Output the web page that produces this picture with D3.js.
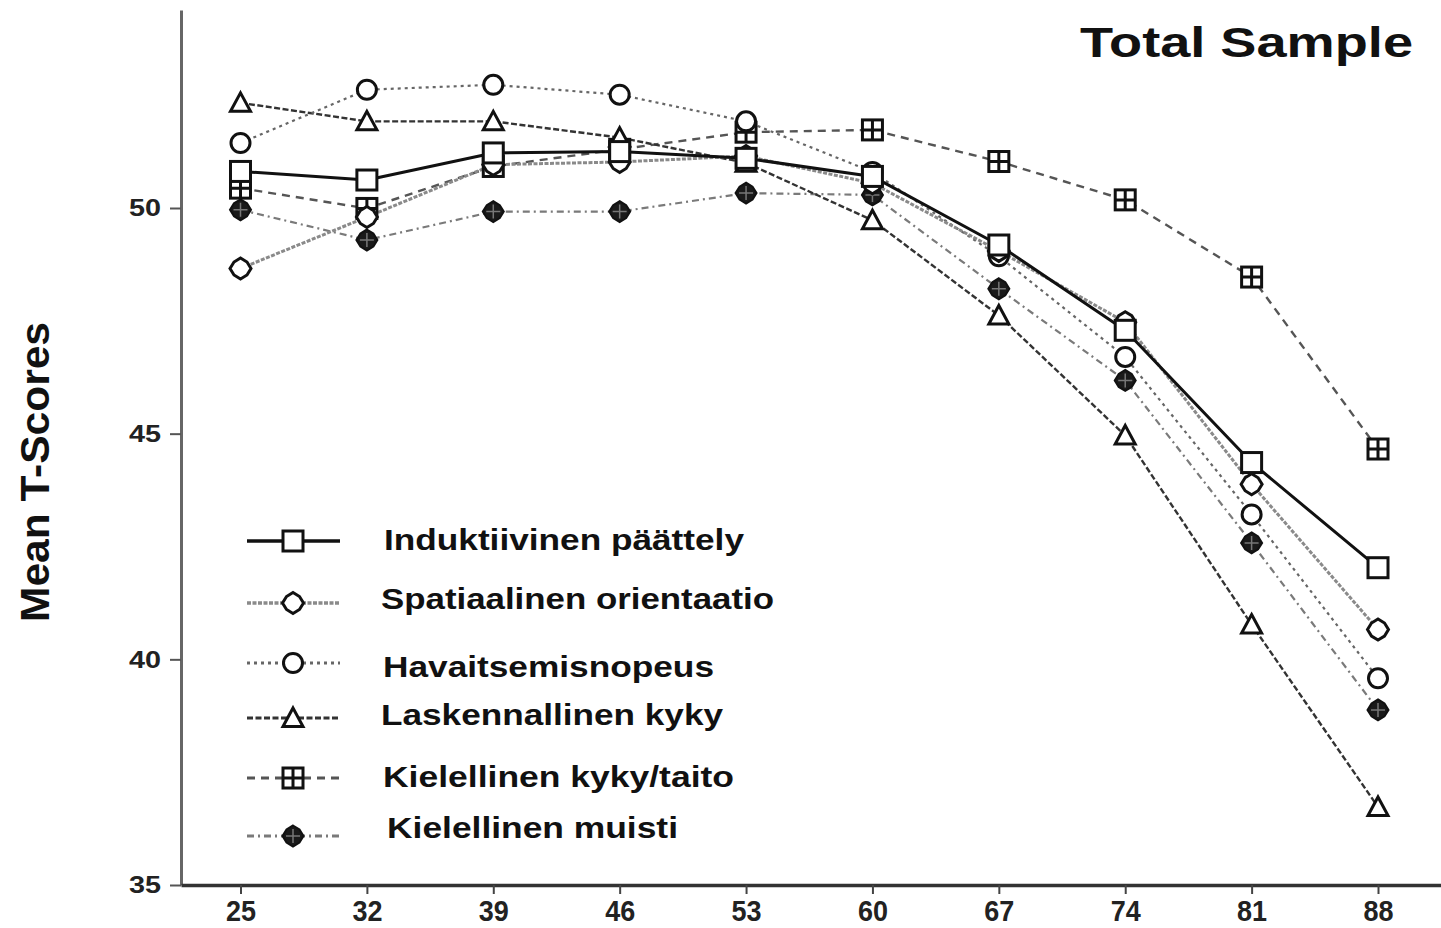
<!DOCTYPE html>
<html>
<head>
<meta charset="utf-8">
<script src="https://cdn.jsdelivr.net/npm/d3@7"></script>
<style>
  body { margin: 0; background: #fff; }
  svg { display: block; }
</style>
</head>
<body>
<svg id="chart" width="1441" height="928"></svg>
<script>
// Ages (years) on the horizontal axis
const ages = [25, 32, 39, 46, 53, 60, 67, 74, 81, 88];
const yTicks = [35, 40, 45, 50];

// Mean T-scores per ability, one value per age group
const induktiivinen  = [50.81, 50.62, 51.22, 51.25, 51.10, 50.70, 49.18, 47.29, 44.36, 42.03];
const spatiaalinen   = [48.66, 49.80, 50.96, 51.02, 51.15, 50.55, 49.05, 47.47, 43.88, 40.66];
const havaitsemis    = [51.44, 52.62, 52.73, 52.51, 51.92, 50.80, 48.93, 46.70, 43.21, 39.58];
const laskennallinen = [52.33, 51.92, 51.92, 51.56, 51.00, 49.73, 47.62, 44.96, 40.77, 36.73];
const kielKyky       = [50.44, 49.99, 50.92, 51.30, 51.68, 51.73, 51.03, 50.18, 48.47, 44.66];
const kielMuisti     = [49.96, 49.29, 49.92, 49.92, 50.33, 50.29, 48.21, 46.18, 42.58, 38.88];

const seriesNames = [
  "Induktiivinen päättely",
  "Spatiaalinen orientaatio",
  "Havaitsemisnopeus",
  "Laskennallinen kyky",
  "Kielellinen kyky/taito",
  "Kielellinen muisti"
];

const styles = [
  { marker: "square",   stroke: "#111", width: 3,   dash: null },
  { marker: "octagon",  stroke: "#8a8a8a", width: 3, dash: "4,1.5" },
  { marker: "circle",   stroke: "#666", width: 2.2, dash: "3,4" },
  { marker: "triangle", stroke: "#333", width: 2.4, dash: "6,2.5" },
  { marker: "grid",     stroke: "#555", width: 2.4, dash: "8,6" },
  { marker: "filled",   stroke: "#7a7a7a", width: 2.2, dash: "7,4,2,4" }
];
const allValues = [induktiivinen, spatiaalinen, havaitsemis, laskennallinen, kielKyky, kielMuisti];

// Legend layout: row centre of the sample line, text baseline, text start/end
const legendRows = [
  { ly: 541, ty: 550, tx: 384, tw: 360 },
  { ly: 603, ty: 609, tx: 381, tw: 393 },
  { ly: 663, ty: 677, tx: 383, tw: 331 },
  { ly: 718, ty: 725, tx: 381, tw: 342 },
  { ly: 778, ty: 787, tx: 383, tw: 351 },
  { ly: 836, ty: 838, tx: 387, tw: 291 }
];

const svg = d3.select("#chart");

const x = d3.scaleLinear().domain([25, 88]).range([240.5, 1378]);
const y = d3.scaleLinear().domain([35, 50]).range([885, 208]);

// Axis scales that run the full length of the drawn axis lines
const xAxisScale = d3.scaleLinear().domain([x.invert(181), x.invert(1441)]).range([181, 1441]);
const yAxisScale = d3.scaleLinear().domain([35, y.invert(10)]).range([885, 10]);

// Y axis
const gy = svg.append("g")
  .attr("transform", "translate(181,0)")
  .call(d3.axisLeft(yAxisScale).tickValues(yTicks).tickSize(11).tickPadding(9).tickSizeOuter(0));
gy.select(".domain").attr("stroke", "#666").attr("stroke-width", 3);
gy.selectAll(".tick line").attr("stroke", "#555").attr("stroke-width", 2);
gy.selectAll(".tick text")
  .attr("font-family", "Arial, 'Liberation Sans', sans-serif")
  .attr("font-weight", "bold")
  .attr("font-size", 24)
  .attr("fill", "#222")
  .attr("textLength", 32)
  .attr("lengthAdjust", "spacingAndGlyphs");

// X axis
const gx = svg.append("g")
  .attr("transform", "translate(0,885)")
  .call(d3.axisBottom(xAxisScale).tickValues(ages).tickSize(9).tickPadding(6).tickSizeOuter(0));
gx.select(".domain").attr("stroke", "#333").attr("stroke-width", 3.5);
gx.selectAll(".tick line").attr("stroke", "#444").attr("stroke-width", 2);
gx.selectAll(".tick text")
  .attr("font-family", "'Liberation Sans Narrow', 'Arial Narrow', Arial, sans-serif")
  .attr("font-weight", "bold")
  .attr("font-size", 29)
  .attr("fill", "#222")
  .attr("textLength", 30)
  .attr("lengthAdjust", "spacingAndGlyphs");

// Y axis title
svg.append("text")
  .attr("transform", "translate(49,472) rotate(-90)")
  .attr("text-anchor", "middle")
  .attr("font-family", "Arial, 'Liberation Sans', sans-serif")
  .attr("font-weight", "bold")
  .attr("font-size", 40)
  .attr("fill", "#111")
  .attr("textLength", 300)
  .attr("lengthAdjust", "spacingAndGlyphs")
  .text("Mean T-Scores");

// Panel title
svg.append("text")
  .attr("x", 1080).attr("y", 57)
  .attr("font-family", "Arial, 'Liberation Sans', sans-serif")
  .attr("font-weight", "bold")
  .attr("font-size", 42)
  .attr("fill", "#111")
  .attr("textLength", 333)
  .attr("lengthAdjust", "spacingAndGlyphs")
  .text("Total Sample");

// Marker shapes
const octagon = "M0,-10.5 L6.5,-6.5 L10.5,0 L6.5,6.5 L0,10.5 L-6.5,6.5 L-10.5,0 L-6.5,-6.5 Z";
function drawMarker(g, type) {
  const ink = "#111";
  if (type === "square") {
    g.append("rect").attr("x", -10).attr("y", -10).attr("width", 20).attr("height", 20)
      .attr("fill", "#fff").attr("stroke", ink).attr("stroke-width", 3);
  } else if (type === "octagon") {
    g.append("path").attr("d", octagon)
      .attr("fill", "#fff").attr("stroke", ink).attr("stroke-width", 3);
  } else if (type === "circle") {
    g.append("circle").attr("r", 9.5)
      .attr("fill", "#fff").attr("stroke", ink).attr("stroke-width", 3);
  } else if (type === "triangle") {
    g.append("path").attr("d", "M0,-10 L10,8.5 L-10,8.5 Z")
      .attr("fill", "#fff").attr("stroke", ink).attr("stroke-width", 3).attr("stroke-linejoin", "miter");
  } else if (type === "grid") {
    g.append("rect").attr("x", -10).attr("y", -10).attr("width", 20).attr("height", 20)
      .attr("fill", "#fff").attr("stroke", ink).attr("stroke-width", 3);
    g.append("path").attr("d", "M-10,0 H10 M0,-10 V10")
      .attr("stroke", ink).attr("stroke-width", 3);
  } else if (type === "filled") {
    g.append("path").attr("d", octagon)
      .attr("fill", "#1a1a1a").attr("stroke", ink).attr("stroke-width", 2);
    g.append("path").attr("d", "M-7,0 H7 M0,-7 V7")
      .attr("stroke", "#777").attr("stroke-width", 1.5);
  }
}

const line = d3.line().x(d => x(d.age)).y(d => y(d.v));
const seriesData = allValues.map((vals, i) => ({
  name: seriesNames[i],
  style: styles[i],
  points: ages.map((a, j) => ({ age: a, v: vals[j] }))
}));

// Lines (bottom layer), drawn from the last series upward
const linesG = svg.append("g");
seriesData.slice().reverse().forEach(s => {
  linesG.append("path")
    .attr("d", line(s.points))
    .attr("fill", "none")
    .attr("stroke", s.style.stroke)
    .attr("stroke-width", s.style.width)
    .attr("stroke-dasharray", s.style.dash)
    .attr("stroke-linejoin", "round");
});

// Markers
const markG = svg.append("g");
seriesData.slice().reverse().forEach(s => {
  s.points.forEach(p => {
    const g = markG.append("g").attr("transform", `translate(${x(p.age)},${y(p.v)})`);
    drawMarker(g, s.style.marker);
  });
});

// Legend
const legG = svg.append("g");
seriesData.forEach((s, i) => {
  const r = legendRows[i];
  legG.append("line")
    .attr("x1", 247).attr("x2", 340).attr("y1", r.ly).attr("y2", r.ly)
    .attr("stroke", s.style.stroke)
    .attr("stroke-width", s.style.width + 0.6)
    .attr("stroke-dasharray", s.style.dash);
  const g = legG.append("g").attr("transform", `translate(293,${r.ly})`);
  drawMarker(g, s.style.marker);
  legG.append("text")
    .attr("x", r.tx).attr("y", r.ty)
    .attr("font-family", "Arial, 'Liberation Sans', sans-serif")
    .attr("font-weight", "bold")
    .attr("font-size", 30)
    .attr("fill", "#111")
    .attr("textLength", r.tw)
    .attr("lengthAdjust", "spacingAndGlyphs")
    .text(s.name);
});
</script>
</body>
</html>
